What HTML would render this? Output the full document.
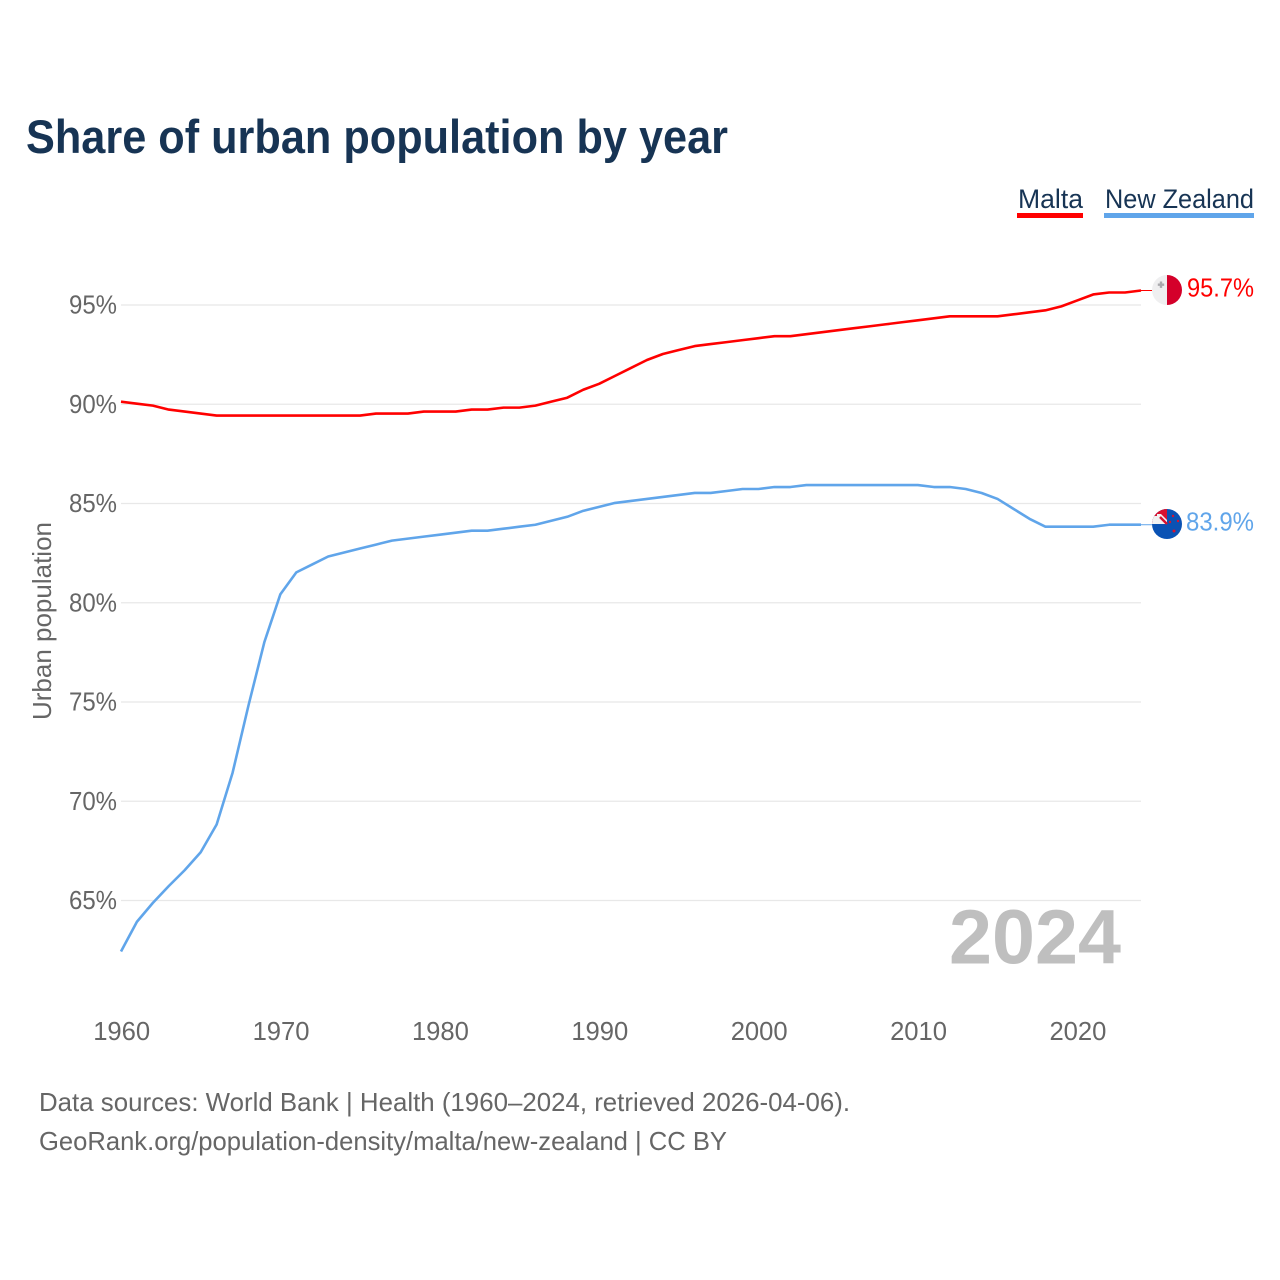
<!DOCTYPE html>
<html lang="en">
<head>
<meta charset="utf-8">
<title>Share of urban population by year</title>
<style>
html,body{margin:0;padding:0;background:#fff;width:1280px;height:1280px;overflow:hidden}
svg{display:block}
text{font-family:"Liberation Sans",sans-serif}
</style>
</head>
<body>
<svg id="chart" xmlns="http://www.w3.org/2000/svg" width="1280" height="1280" viewBox="0 0 1280 1280">
  <defs>
    <clipPath id="clip-mt"><circle cx="1167" cy="290" r="15"/></clipPath>
    <clipPath id="clip-nz"><circle cx="1167" cy="524" r="15"/></clipPath>
  </defs>
  <rect width="1280" height="1280" fill="#fff"/>
  <text x="26" y="153" font-size="47" font-weight="700" fill="#173454" textLength="702" lengthAdjust="spacingAndGlyphs">Share of urban population by year</text>

  <g>
    <g>
      <text x="1018" y="208" font-size="27" fill="#173454" textLength="65" lengthAdjust="spacingAndGlyphs">Malta</text>
      <rect x="1017" y="213" width="66" height="5" fill="#ff0000"/>
    </g>
    <g>
      <text x="1105" y="208" font-size="27" fill="#173454" textLength="149" lengthAdjust="spacingAndGlyphs">New Zealand</text>
      <rect x="1104" y="213" width="150" height="5" fill="#60a5ea"/>
    </g>
  </g>

  <g id="grid"></g>
  <g id="yticks"></g>
  <g id="xticks"></g>
  <text transform="translate(51 621) rotate(-90)" text-anchor="middle" font-size="26" fill="#666" textLength="198" lengthAdjust="spacingAndGlyphs">Urban population</text>
  <text x="949" y="963.500" font-size="77" font-weight="700" fill="#bfbfbf" textLength="172" lengthAdjust="spacingAndGlyphs">2024</text>
  <g id="series"></g>

  <g clip-path="url(#clip-mt)">
    <rect x="1152" y="275" width="15" height="30" fill="#efeff0"/>
    <rect x="1167" y="275" width="15" height="30" fill="#d4002a"/>
    <path d="M1159.8 281.5h2.4v2h2v2.4h-2v2h-2.400v-2h-2v-2.400h2z" fill="#a9a9ad"/>
  </g>
  <g clip-path="url(#clip-nz)">
    <rect x="1152" y="509" width="30" height="30" fill="#0a52b4"/>
    <rect x="1152" y="509" width="15" height="15" fill="#d8112f"/>
    <path d="M1152 516H1157V514H1161L1167 520V524H1152z" fill="#f2f2f2"/>
    <path d="M1160 517L1167 524" stroke="#d8112f" stroke-width="2.500"/>
    <circle cx="1170" cy="522" r="1.200" fill="#d8112f"/>
    <circle cx="1173" cy="516" r="1.200" fill="#d8112f"/>
    <circle cx="1178" cy="521" r="1.200" fill="#d8112f"/>
    <circle cx="1174" cy="531" r="1.500" fill="#d8112f"/>
  </g>
  <text x="1187" y="296.500" font-size="26" fill="#ff0000" textLength="67" lengthAdjust="spacingAndGlyphs">95.7%</text>
  <text x="1186" y="530.500" font-size="26" fill="#60a5ea" textLength="68" lengthAdjust="spacingAndGlyphs">83.9%</text>

  <text x="39" y="1111" font-size="26" fill="#666" textLength="811" lengthAdjust="spacingAndGlyphs">Data sources: World Bank | Health (1960–2024, retrieved 2026-04-06).</text>
  <text x="39" y="1150" font-size="26" fill="#666" textLength="688" lengthAdjust="spacingAndGlyphs">GeoRank.org/population-density/malta/new-zealand | CC BY</text>
</svg>
<script>
const startYear = 1960;
const yTickValues = [65, 70, 75, 80, 85, 90, 95];
const xTickValues = [1960, 1970, 1980, 1990, 2000, 2010, 2020];
const maltaValues = [90.1,90.0,89.9,89.7,89.6,89.5,89.4,89.4,89.4,89.4,89.4,89.4,89.4,89.4,89.4,89.4,89.5,89.5,89.5,89.6,89.6,89.6,89.7,89.7,89.8,89.8,89.9,90.1,90.3,90.7,91.0,91.4,91.8,92.2,92.5,92.7,92.9,93.0,93.1,93.2,93.3,93.4,93.4,93.5,93.6,93.7,93.8,93.9,94.0,94.1,94.2,94.3,94.4,94.4,94.4,94.4,94.5,94.6,94.7,94.9,95.2,95.5,95.6,95.6,95.7];
const newZealandValues = [62.4,63.9,64.85,65.7,66.5,67.4,68.8,71.4,74.8,78.0,80.4,81.5,81.9,82.3,82.5,82.7,82.9,83.1,83.2,83.3,83.4,83.5,83.6,83.6,83.7,83.8,83.9,84.1,84.3,84.6,84.8,85.0,85.1,85.2,85.3,85.4,85.5,85.5,85.6,85.7,85.7,85.8,85.8,85.9,85.9,85.9,85.9,85.9,85.9,85.9,85.9,85.8,85.8,85.7,85.5,85.2,84.7,84.2,83.8,83.8,83.8,83.8,83.9,83.9,83.9];

const NS = 'http://www.w3.org/2000/svg';
const xScale = year => 121 + (year - 1960) * (1141 - 121) / 64;
const yScale = value => 305 + (95 - value) * (900.5 - 305) / 30;
const seriesShift = -0.6;

function make(tag, parent, attrs, text) {
  const el = document.createElementNS(NS, tag);
  for (const key in attrs) el.setAttribute(key, attrs[key]);
  if (text !== undefined) el.textContent = text;
  parent.appendChild(el);
  return el;
}

const grid = document.getElementById('grid');
const yticks = document.getElementById('yticks');
const xticks = document.getElementById('xticks');
const seriesGroup = document.getElementById('series');

yTickValues.forEach(v => {
  const line = make('line', grid, {x1: 121, x2: 1141, y1: yScale(v), y2: yScale(v), stroke: '#e8e8e8', 'stroke-width': 1.3});
  
  
  const label = make('text', yticks, {x: 117, y: yScale(v) + 8.5, 'text-anchor': 'end', 'font-size': 26, fill: '#666', textLength: 48, lengthAdjust: 'spacingAndGlyphs'}, v + '%');
  
  
});

xTickValues.forEach(y => {
  const label = make('text', xticks, {x: xScale(y) + 0.7, y: 1040, 'text-anchor': 'middle', 'font-size': 26, fill: '#666', textLength: 57, lengthAdjust: 'spacingAndGlyphs'}, String(y));
  
  
});

function drawSeries(values, color, name) {
  const pts = values.map((v, i) => xScale(startYear + i).toFixed(2) + ',' + (yScale(v) + seriesShift).toFixed(2)).join(' ');
  const last = values[values.length - 1];
  const lastYear = startYear + values.length - 1;
  const leader = make('line', seriesGroup, {x1: xScale(lastYear), x2: xScale(lastYear) + 11, y1: yScale(last) + seriesShift, y2: yScale(last) + seriesShift, stroke: color, 'stroke-width': 1});
  
  
  const line = make('polyline', seriesGroup, {points: pts, fill: 'none', stroke: color, 'stroke-width': 2.6, 'stroke-linejoin': 'round'});
  
  
}

drawSeries(newZealandValues, '#60a5ea', 'new-zealand');
drawSeries(maltaValues, '#ff0000', 'malta');
</script>
</body>
</html>
